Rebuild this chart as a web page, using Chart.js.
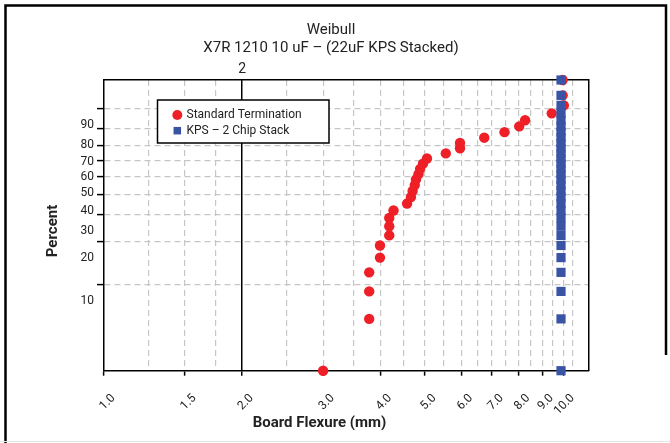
<!DOCTYPE html>
<html>
<head>
<meta charset="utf-8">
<script src="https://cdn.jsdelivr.net/npm/chart.js@4.4.1/dist/chart.umd.min.js"></script>
<style>
  html, body { margin: 0; padding: 0; background: #ffffff; }
  canvas { display: block; }
</style>
</head>
<body>
<canvas id="c" width="670" height="443"></canvas>
<script>
// ---------------- data ----------------
const titleLines = ['Weibull', 'X7R 1210 10 uF \u2013 (22uF KPS Stacked)'];
const seriesNames = ['Standard Termination', 'KPS \u2013 2 Chip Stack'];
const xAxisTitle = 'Board Flexure (mm)';
const yAxisTitle = 'Percent';

// cumulative percent (rank) of each point
const rankPercent = [2.3, 5.6, 8.9, 12.2, 15.5, 18.8, 22.0, 25.3, 28.6, 31.9,
                     35.2, 38.5, 41.8, 45.1, 48.4, 51.6, 54.9, 58.2, 61.5, 64.8,
                     68.1, 71.4, 74.7, 78.0, 81.3, 84.5, 87.8, 91.1, 94.4, 97.7];
// board flexure (mm) of Standard Termination parts
const standardFlexure = [3.0, 3.78, 3.78, 3.78, 3.99, 3.99, 4.18, 4.18, 4.18, 4.27,
                         4.57, 4.66, 4.70, 4.75, 4.78, 4.84, 4.88, 4.95, 5.05, 5.55,
                         5.96, 5.96, 6.73, 7.45, 8.02, 8.26, 9.44, 10.03, 9.97, 9.97];
// board flexure (mm) of KPS 2 chip stack parts
const kpsFlexure = [9.89, 9.89, 9.89, 9.89, 9.89, 9.89, 9.89, 9.89, 9.89, 9.89,
                    9.89, 9.89, 9.89, 9.89, 9.89, 9.89, 9.89, 9.89, 9.89, 9.89,
                    9.89, 9.89, 9.89, 9.89, 9.89, 9.89, 9.89, 9.89, 9.89, 9.89];

const percentTicks = [10, 20, 30, 40, 50, 60, 70, 80, 90];
const flexureGrid = [1, 1.25, 1.5, 1.75, 2, 2.5, 3, 3.5, 4, 4.5, 5, 5.5, 6, 6.5,
                     7, 7.5, 8, 8.5, 9, 9.5, 10, 10.5];
const flexureLabels = [1, 1.5, 2, 3, 4, 5, 6, 7, 8, 9, 10];
const topTicks = [2];
const xMin = 1, xMax = 11.34;
const yMinPct = 2.3, yMaxPct = 97.7;

// Weibull probability transform
const weib = p => Math.log(-Math.log(1 - p / 100));

// ---------------- styling ----------------
const RED = '#EE1F26';
const BLUE = '#3A54A5';
const GRID = '#c6c6c6';
const TEXT = '#222222';
const FONT = 'Roboto';
Chart.defaults.font.family = FONT;
Chart.defaults.color = TEXT;

const pageFrame = {
  id: 'pageFrame',
  beforeDraw(chart) {
    const ctx = chart.ctx;
    ctx.save();
    ctx.fillStyle = '#ffffff';
    ctx.fillRect(0, 0, chart.width, chart.height);
    ctx.strokeStyle = '#000';
    ctx.lineWidth = 2.5;
    ctx.beginPath();
    ctx.moveTo(5.5, 443); ctx.lineTo(5.5, 5.5); ctx.lineTo(666, 5.5); ctx.lineTo(666, 355);
    ctx.stroke();
    ctx.strokeStyle = '#e6e6e6';
    ctx.lineWidth = 1;
    ctx.beginPath(); ctx.moveTo(0, 441.5); ctx.lineTo(670, 441.5); ctx.stroke();
    ctx.restore();
  }
};

const axisTitles = {
  id: 'axisTitles',
  afterDraw(chart) {
    const ctx = chart.ctx;
    ctx.save();
    ctx.fillStyle = TEXT;
    ctx.font = 'bold 15px ' + FONT;
    ctx.textAlign = 'center';
    ctx.textBaseline = 'middle';
    ctx.fillText(xAxisTitle, 319.5, 423);
    ctx.translate(53, 231);
    ctx.rotate(-Math.PI / 2);
    ctx.fillText(yAxisTitle, 0, 0);
    ctx.restore();
  }
};

const boxLegend = {
  id: 'boxLegend',
  afterDraw(chart) {
    const ctx = chart.ctx;
    const box = {x: 157.5, y: 100, w: 171.5, h: 43};
    ctx.save();
    ctx.fillStyle = '#fff';
    ctx.fillRect(box.x, box.y, box.w, box.h);
    ctx.strokeStyle = '#000';
    ctx.lineWidth = 1.5;
    ctx.strokeRect(box.x, box.y, box.w, box.h);
    const rows = [115, 130.7];
    chart.data.datasets.forEach((ds, i) => {
      const y = rows[i];
      ctx.fillStyle = ds.backgroundColor;
      const r = ds.pointStyle === 'rect' ? 5.3 : 5;
      if (Chart.helpers && Chart.helpers.drawPoint) {
        Chart.helpers.drawPoint(ctx, {pointStyle: ds.pointStyle, radius: r, rotation: 0, borderWidth: 0}, 177.3, y);
      } else {
        ctx.beginPath();
        if (ds.pointStyle === 'rect') ctx.rect(177.3 - 3.7, y - 3.7, 7.4, 7.4);
        else ctx.arc(177.3, y, r, 0, Math.PI * 2);
        ctx.fill();
      }
      ctx.fillStyle = TEXT;
      ctx.font = '12px ' + FONT;
      ctx.textAlign = 'left';
      ctx.textBaseline = 'middle';
      ctx.fillText(ds.label, 186.5, y);
    });
    ctx.restore();
  }
};

const toPoints = (xs) => xs.map((x, i) => ({x: x, y: weib(rankPercent[i])}));

new Chart(document.getElementById('c'), {
  type: 'scatter',
  data: {
    datasets: [
      {
        label: seriesNames[0],
        data: toPoints(standardFlexure),
        backgroundColor: RED,
        borderColor: RED,
        pointStyle: 'circle',
        pointRadius: 5.2,
        pointBorderWidth: 0,
        clip: false,
        order: 2
      },
      {
        label: seriesNames[1],
        data: toPoints(kpsFlexure),
        backgroundColor: BLUE,
        borderColor: BLUE,
        pointStyle: 'rect',
        pointRadius: 6.5,
        pointBorderWidth: 0,
        clip: false,
        order: 1
      }
    ]
  },
  options: {
    responsive: false,
    animation: false,
    events: [],
    layout: { padding: { left: 0, right: 8, top: 0, bottom: 0 } },
    plugins: {
      legend: { display: false },
      tooltip: { enabled: false },
      title: {
        display: true,
        text: titleLines,
        color: TEXT,
        font: { size: 15, weight: 'normal', lineHeight: 1.2 },
        padding: { top: 21, bottom: 0 }
      }
    },
    scales: {
      x: {
        type: 'logarithmic',
        position: 'bottom',
        min: xMin,
        max: xMax,
        afterBuildTicks: s => { s.ticks = flexureGrid.map(v => ({value: v})); },
        afterFit: s => { s.height = 72.3; },
        ticks: {
          autoSkip: false,
          minRotation: 45,
          maxRotation: 45,
          labelOffset: 9.5,
          padding: 15.5,
          color: TEXT,
          font: { size: 12 },
          callback: v => flexureLabels.includes(v) ? v.toFixed(1) : ''
        },
        grid: {
          color: c => {
            const v = c.tick ? c.tick.value : null;
            if (v === xMin) return 'rgba(0,0,0,0)';
            return v === 2 ? '#000' : GRID;
          },
          lineWidth: c => (c.tick && c.tick.value === 2) ? 1.5 : 1.2,
          drawTicks: true,
          tickLength: 5,
          tickWidth: 1.5,
          tickColor: c => (c.tick && flexureLabels.includes(c.tick.value)) ? '#000' : 'rgba(0,0,0,0)'
        },
        border: {
          display: true,
          color: '#000',
          width: 1.5,
          dash: c => (c.type === 'tick' && c.tick && c.tick.value !== 2) ? [6, 4] : []
        }
      },
      xTop: {
        type: 'logarithmic',
        position: 'top',
        min: xMin,
        max: xMax,
        afterBuildTicks: s => { s.ticks = topTicks.map(v => ({value: v})); },
        afterFit: s => { s.height = 23; },
        ticks: {
          autoSkip: false,
          maxRotation: 0,
          padding: 2,
          color: TEXT,
          font: { size: 14 },
          callback: v => String(v)
        },
        grid: { display: false, drawTicks: false },
        border: { display: true, color: '#000', width: 1.5 }
      },
      y: {
        type: 'linear',
        position: 'left',
        min: weib(yMinPct),
        max: weib(yMaxPct),
        afterBuildTicks: s => { s.ticks = percentTicks.map(p => ({value: weib(p)})); },
        afterFit: s => { s.width = 104; },
        ticks: {
          autoSkip: false,
          labelOffset: 16.5,
          padding: 3,
          color: TEXT,
          font: { size: 12 },
          callback: (v, i) => String(percentTicks[i])
        },
        grid: {
          color: GRID,
          lineWidth: 1.2,
          drawTicks: true,
          tickLength: 7,
          tickWidth: 1.5,
          tickColor: '#000'
        },
        border: {
          display: true,
          color: '#000',
          width: 1.5,
          dash: c => c.type === 'tick' ? [6, 4] : []
        }
      },
      yRight: {
        type: 'linear',
        position: 'right',
        min: weib(yMinPct),
        max: weib(yMaxPct),
        afterFit: s => { s.width = 73.7; },
        ticks: { display: false },
        grid: { display: false, drawTicks: false },
        border: { display: true, color: '#000', width: 1.5 }
      }
    }
  },
  plugins: [pageFrame, axisTitles, boxLegend]
});
</script>
</body>
</html>
